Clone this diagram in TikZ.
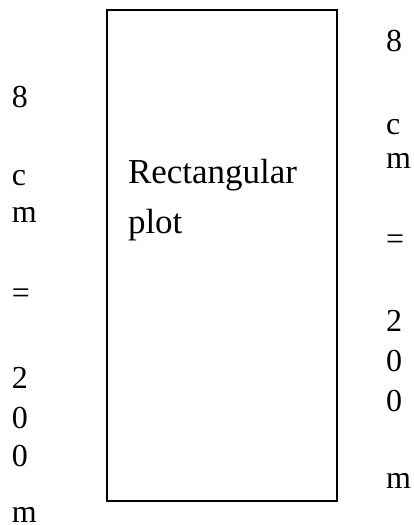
\documentclass[tikz,border=0pt]{standalone}
\usepackage{fontspec}
\setmainfont{Liberation Serif}
\usetikzlibrary{positioning}

\begin{document}
\begin{tikzpicture}[x=1pt, y=-1pt, every node/.style={inner sep=0pt, outer sep=0pt}, sidechar/.style={anchor=base west, font=\fontsize{32}{40}\selectfont}, plotbox/.style={draw, line width=1.5pt, rectangle, minimum width=230pt, minimum height=491pt}]
\useasboundingbox (0,0) rectangle (414,525);
\node (plot) [plotbox] at (222,255.5) {};
\node (plottext) [anchor=base west, align=left, font=\fontsize{35}{50}\selectfont] at (128,233) {Rectangular\\plot};
% left side
\node (l8) [sidechar] at (12,107) {8};
\node (lc) [sidechar] at (12,185) {c};
\node (lm) [sidechar] at (12,222) {m};
\node (leq) [sidechar] at (12,303) {=};
\node (l2) [sidechar] at (12,388) {2};
\node (l0) [sidechar] at (12,428) {0};
\node (l00) [sidechar] at (12,466) {0};
\node (lm2) [sidechar] at (12,522) {m};
% right side
\node (r8) [sidechar] at (386,51) {8};
\node (rc) [sidechar] at (386,134) {c};
\node (rm) [sidechar] at (386,168) {m};
\node (req) [sidechar] at (386,249) {=};
\node (r2) [sidechar] at (386,331) {2};
\node (r0) [sidechar] at (386,371) {0};
\node (r00) [sidechar] at (386,411) {0};
\node (rm2) [sidechar] at (386,488) {m};
\end{tikzpicture}
\end{document}
